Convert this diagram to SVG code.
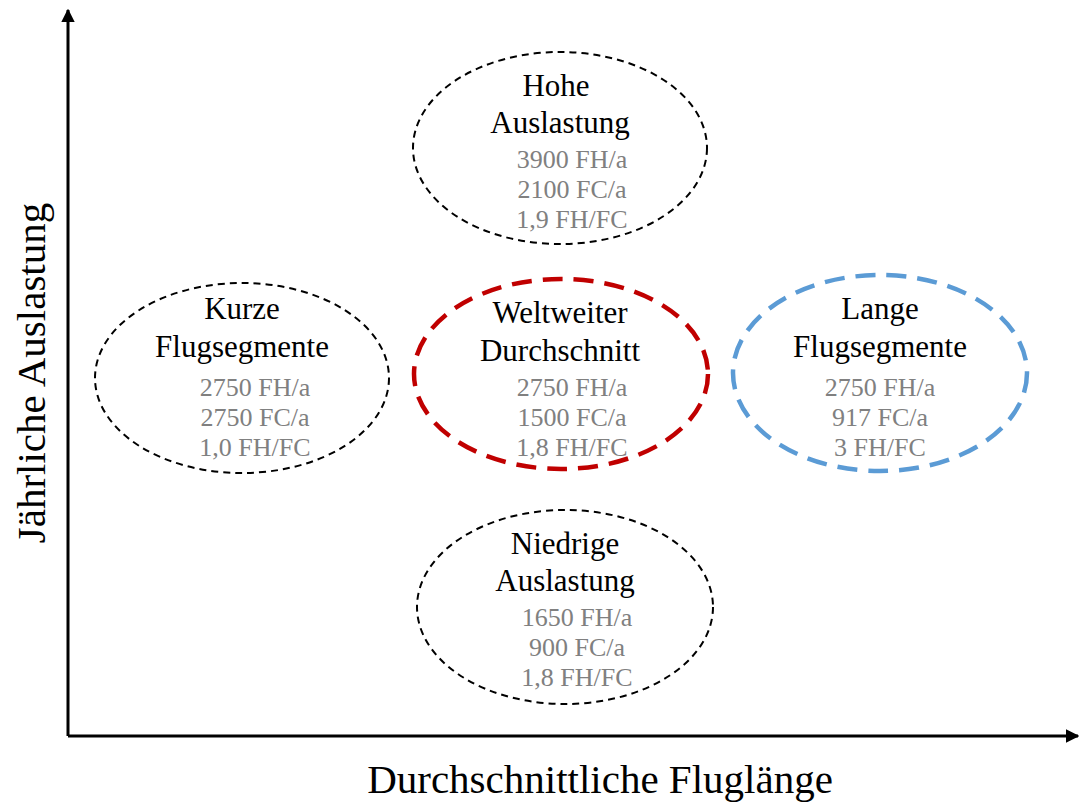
<svg xmlns="http://www.w3.org/2000/svg" width="1079" height="805" viewBox="0 0 1079 805">
<style>
.t{font-family:"Liberation Serif","Times New Roman",serif;font-size:31px;fill:#000;text-anchor:middle}
.v{font-family:"Liberation Serif","Times New Roman",serif;font-size:26px;fill:#808080;text-anchor:middle}
.ax{font-family:"Liberation Serif","Times New Roman",serif;font-size:41px;fill:#000;text-anchor:middle}
.thin{fill:none;stroke:#000;stroke-width:2;stroke-dasharray:7 5}
</style>
<defs>
<marker id="arr" viewBox="0 0 10 10" refX="9" refY="5" markerWidth="4.5" markerHeight="4.5" orient="auto" markerUnits="strokeWidth">
<path d="M0,0 L10,5 L0,10 z" fill="#000"/>
</marker>
</defs>
<rect width="1079" height="805" fill="#fff"/>
<g id="axes">
<line x1="68" y1="736" x2="68" y2="10" stroke="#000" stroke-width="3" marker-end="url(#arr)"/>
<line x1="68" y1="736" x2="1078" y2="736" stroke="#000" stroke-width="3" marker-end="url(#arr)"/>
<text class="ax" x="600" y="793">Durchschnittliche Fluglänge</text>
<text class="ax" transform="translate(45,373) rotate(-90)">Jährliche Auslastung</text>
</g>
<g id="hohe">
<ellipse class="thin" cx="560" cy="148" rx="147" ry="96"/>
<text class="t" x="556" y="96">Hohe</text>
<text class="t" x="560" y="133">Auslastung</text>
<text class="v" x="572" y="168">3900 FH/a</text>
<text class="v" x="572" y="198">2100 FC/a</text>
<text class="v" x="572" y="228">1,9 FH/FC</text>
</g>
<g id="kurze">
<ellipse class="thin" cx="242" cy="378" rx="147" ry="95"/>
<text class="t" x="242" y="319">Kurze</text>
<text class="t" x="242" y="357">Flugsegmente</text>
<text class="v" x="255" y="396">2750 FH/a</text>
<text class="v" x="255" y="426">2750 FC/a</text>
<text class="v" x="255" y="456">1,0 FH/FC</text>
</g>
<g id="weltweit">
<ellipse cx="561" cy="374" rx="147" ry="95" fill="none" stroke="#C00000" stroke-width="4.5" stroke-dasharray="20 11"/>
<text class="t" x="560" y="323">Weltweiter</text>
<text class="t" x="560" y="361">Durchschnitt</text>
<text class="v" x="572" y="396">2750 FH/a</text>
<text class="v" x="572" y="426">1500 FC/a</text>
<text class="v" x="572" y="456">1,8 FH/FC</text>
</g>
<g id="lange">
<ellipse cx="880" cy="373" rx="147" ry="98" fill="none" stroke="#5B9BD5" stroke-width="4.5" stroke-dasharray="20 11"/>
<text class="t" x="880" y="319">Lange</text>
<text class="t" x="880" y="357">Flugsegmente</text>
<text class="v" x="880" y="396">2750 FH/a</text>
<text class="v" x="880" y="426">917 FC/a</text>
<text class="v" x="880" y="456">3 FH/FC</text>
</g>
<g id="niedrige">
<ellipse class="thin" cx="565" cy="607" rx="148" ry="97"/>
<text class="t" x="565" y="554">Niedrige</text>
<text class="t" x="565" y="591">Auslastung</text>
<text class="v" x="577" y="626">1650 FH/a</text>
<text class="v" x="577" y="656">900 FC/a</text>
<text class="v" x="577" y="686">1,8 FH/FC</text>
</g>
</svg>
